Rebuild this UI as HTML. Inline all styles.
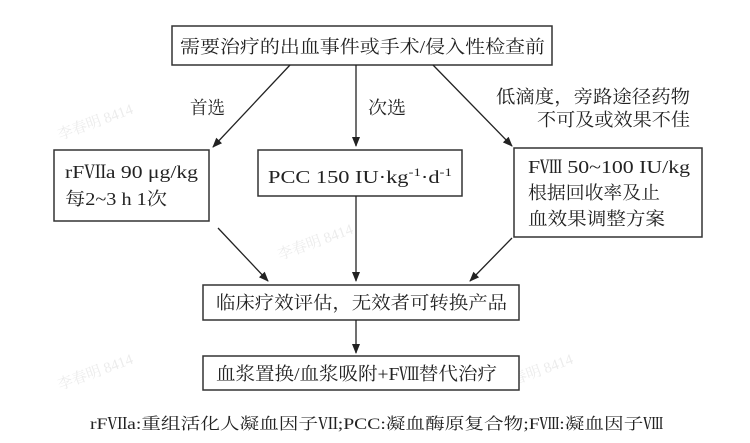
<!DOCTYPE html>
<html><head><meta charset="utf-8"><style>
body{margin:0;background:#fff;}
svg text{font-family:"Liberation Serif","Noto Serif CJK SC",serif;fill:#222;}
</style></head><body>
<svg width="750" height="438" viewBox="0 0 750 438" xmlns="http://www.w3.org/2000/svg" xml:space="preserve">
<defs><marker id="a" markerWidth="10" markerHeight="10" refX="9" refY="4" orient="auto" markerUnits="userSpaceOnUse"><path d="M0,0 L10,4 L0,8 Z" fill="#222"/></marker></defs>
<g font-size="15">
<text x="60" y="140" transform="rotate(-20 60 140)" style="fill:#ececec">李春明 8414</text>
<text x="60" y="390" transform="rotate(-20 60 390)" style="fill:#ececec">李春明 8414</text>
<text x="500" y="390" transform="rotate(-20 500 390)" style="fill:#ececec">李春明 8414</text>
<text x="280" y="260" transform="rotate(-20 280 260)" style="fill:#ececec">李春明 8414</text>
</g>
<g fill="#fff" stroke="#333" stroke-width="1.5">
<rect x="172" y="26" width="380" height="39"/>
<rect x="54" y="150" width="155" height="71"/>
<rect x="258" y="150" width="204" height="46"/>
<rect x="514" y="148" width="188" height="89"/>
<rect x="203" y="285" width="316" height="35"/>
<rect x="203" y="356" width="316" height="34"/>
</g>
<g stroke="#222" stroke-width="1.3" marker-end="url(#a)">
<line x1="290" y1="65" x2="213" y2="147"/>
<line x1="356" y1="65" x2="356" y2="146"/>
<line x1="433" y1="65" x2="512" y2="146"/>
<line x1="218" y1="228" x2="268" y2="281"/>
<line x1="356" y1="196" x2="356" y2="281"/>
<line x1="512" y1="238" x2="470" y2="281"/>
<line x1="356" y1="320" x2="356" y2="353"/>
</g>
<g font-size="18" lengthAdjust="spacingAndGlyphs">
<text x="180" y="53" textLength="365" lengthAdjust="spacingAndGlyphs">需要治疗的出血事件或手术/侵入性检查前</text>
<text x="190" y="114" textLength="35" lengthAdjust="spacingAndGlyphs">首选</text>
<text x="368" y="114" textLength="38" lengthAdjust="spacingAndGlyphs">次选</text>
<text x="496" y="103" textLength="194" lengthAdjust="spacingAndGlyphs">低滴度，旁路途径药物</text>
<text x="537" y="126" textLength="153" lengthAdjust="spacingAndGlyphs">不可及或效果不佳</text>
<text x="65" y="178" textLength="133" lengthAdjust="spacingAndGlyphs">rFⅦa  90 μg/kg</text>
<text x="65" y="205" textLength="102" lengthAdjust="spacingAndGlyphs">每2~3  h  1次</text>
<text x="268" y="183" textLength="184" lengthAdjust="spacingAndGlyphs">PCC  150  IU·kg<tspan dy="-7" font-size="12">-1</tspan><tspan dy="7">·d</tspan><tspan dy="-7" font-size="12">-1</tspan></text>
<text x="528" y="173" textLength="162" lengthAdjust="spacingAndGlyphs">FⅧ 50~100  IU/kg</text>
<text x="528" y="199" textLength="132" lengthAdjust="spacingAndGlyphs">根据回收率及止</text>
<text x="528" y="225" textLength="137" lengthAdjust="spacingAndGlyphs">血效果调整方案</text>
<text x="216" y="309" textLength="291" lengthAdjust="spacingAndGlyphs">临床疗效评估，无效者可转换产品</text>
<text x="216" y="380" textLength="281" lengthAdjust="spacingAndGlyphs">血浆置换/血浆吸附+FⅧ替代治疗</text>
</g>
<text x="90" y="429" font-size="16" textLength="573" lengthAdjust="spacingAndGlyphs">rFⅦa:重组活化人凝血因子Ⅶ;PCC:凝血酶原复合物;FⅧ:凝血因子Ⅷ</text>
</svg>
</body></html>
